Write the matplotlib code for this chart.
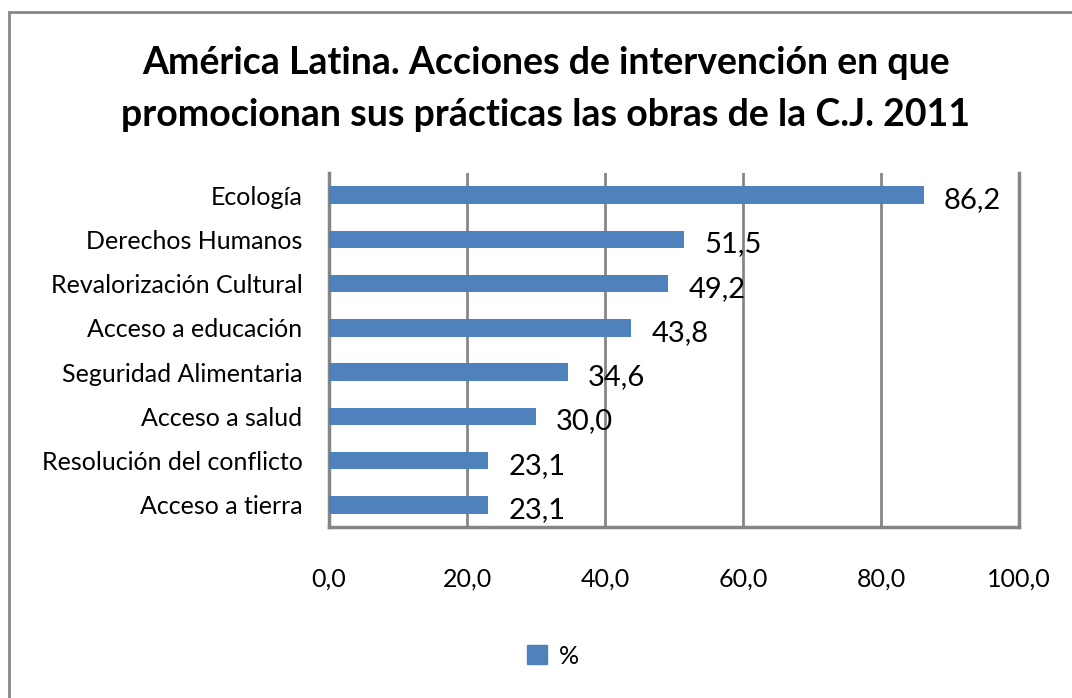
import matplotlib
matplotlib.use('Agg')
import matplotlib.pyplot as plt
from matplotlib.patches import Rectangle, Patch

categories = ['Ecología', 'Derechos Humanos', 'Revalorización Cultural',
              'Acceso a educación', 'Seguridad Alimentaria', 'Acceso a salud',
              'Resolución del conflicto', 'Acceso a tierra']
values = [86.2, 51.5, 49.2, 43.8, 34.6, 30.0, 23.1, 23.1]
xticks = [0, 20, 40, 60, 80, 100]
series_name = '%'
title = 'América Latina. Acciones de intervención en que\npromocionan sus prácticas las obras de la C.J. 2011'

bar_color = '#4F81BD'
grid_color = '#868686'

plt.rcParams['font.family'] = ['Lato', 'DejaVu Sans']

fig = plt.figure(figsize=(10.72, 6.98), dpi=100)
ax = fig.add_axes([329 / 1072, 1 - 527 / 698, 690 / 1072, 354 / 698])

# outer chart frame (cut at right / bottom like the screenshot)
fig.patches.append(Rectangle((9 / 1072, -0.1), 1.2, 1 - 12 / 698 + 0.1,
                             transform=fig.transFigure, fill=False,
                             edgecolor=grid_color, linewidth=2))

pos = list(range(len(categories)))
ax.barh(pos, values, height=0.39, color=bar_color, zorder=3, label=series_name)

for i, v in enumerate(values):
    ax.annotate(('%.1f' % v).replace('.', ','), (v, i), xytext=(20, -5),
                textcoords='offset pixels', ha='left', va='center',
                fontsize=21, color='black', zorder=4)

ax.set_xlim(0, 100)
ax.set_ylim(len(categories) - 0.5, -0.5)
ax.set_xticks(xticks)
ax.set_xticklabels([('%.1f' % t).replace('.', ',') for t in xticks], fontsize=18)
ax.set_yticks(pos)
ax.set_yticklabels(categories, fontsize=18)
ax.tick_params(axis='x', length=0, pad=29)
ax.tick_params(axis='y', length=0, pad=19)

ax.grid(axis='x', color=grid_color, linewidth=2, zorder=1)
for s in ['left', 'bottom', 'right']:
    ax.spines[s].set_color(grid_color)
    ax.spines[s].set_linewidth(2.5)
ax.spines['top'].set_visible(False)

fig.text(546 / 1072, 1 - 89 / 698, title, ha='center', va='center',
         fontsize=27, fontweight='bold', linespacing=1.65)

fig.legend(handles=[Patch(color=bar_color, label=series_name)],
           loc='center', bbox_to_anchor=(553 / 1072, 1 - 656 / 698),
           frameon=False, fontsize=18, handlelength=0.8, handleheight=0.8,
           handletextpad=0.5)

fig.savefig('out.png', dpi=100, facecolor='white')
